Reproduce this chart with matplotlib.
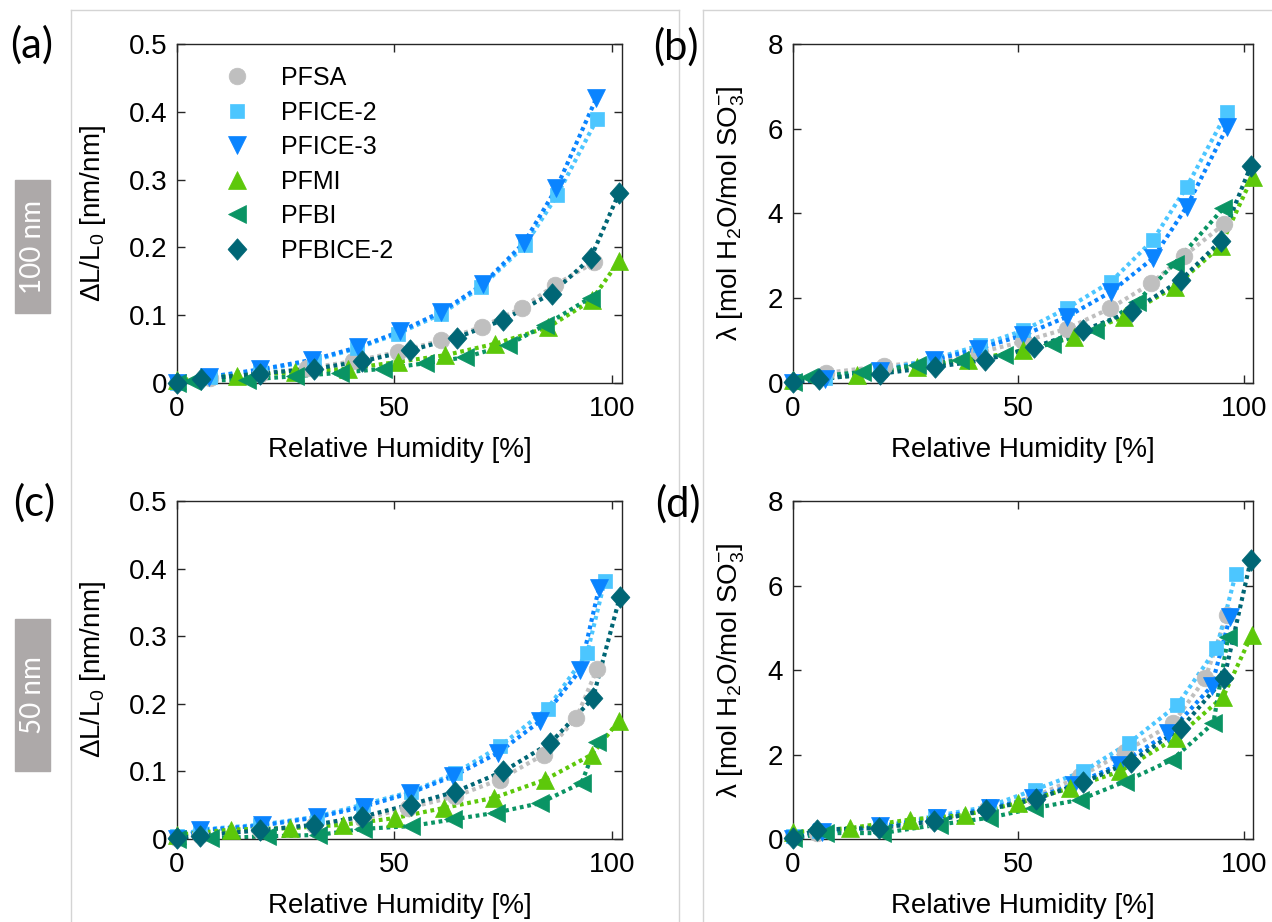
import matplotlib
matplotlib.use("Agg")
import matplotlib.pyplot as plt
from matplotlib.lines import Line2D
from matplotlib.ticker import FuncFormatter

plt.rcParams['font.family'] = ['Liberation Sans', 'DejaVu Sans']
plt.rcParams['mathtext.fontset'] = 'custom'
plt.rcParams['mathtext.rm'] = 'Liberation Sans'
plt.rcParams['mathtext.it'] = 'Liberation Sans:italic'
plt.rcParams['mathtext.default'] = 'rm'

series = ['PFSA', 'PFICE-2', 'PFICE-3', 'PFMI', 'PFBI', 'PFBICE-2']
colors = {'PFSA': '#BFBFBF', 'PFICE-2': '#4CC6FF', 'PFICE-3': '#0A84FF',
          'PFMI': '#5DC80A', 'PFBI': '#0A9464', 'PFBICE-2': '#006675'}
diamond = [(0, 1), (0.88, 0), (0, -1), (-0.88, 0), (0, 1)]
markers = {'PFSA': ('o', 12), 'PFICE-2': ('s', 10), 'PFICE-3': ('v', 13.5),
           'PFMI': ('^', 13.5), 'PFBI': ('<', 13.5), 'PFBICE-2': (diamond, 15.5)}

# (a) 100 nm film: linear swelling
a_rh = {
    'PFSA':     [0, 7.6, 19, 30, 40.5, 50.9, 60.8, 70.2, 79.4, 86.8, 95.9],
    'PFICE-2':  [0, 7.6, 19.1, 31.4, 41.3, 50.9, 60.8, 70, 80, 87.4, 96.6],
    'PFICE-3':  [0, 7.3, 19.1, 31, 41.7, 51.3, 60.8, 70.4, 79.8, 87.2, 96.4],
    'PFMI':     [0, 13.9, 27.2, 39.3, 50.7, 61.7, 73.2, 85.3, 95.3, 101.6],
    'PFBI':     [0, 3.4, 16.1, 27.2, 37.5, 47.4, 57, 66.2, 76.1, 84.5, 95.1],
    'PFBICE-2': [0, 5.5, 19.1, 31.5, 42.6, 53.6, 64.3, 75, 86.1, 95.1, 101.6],
}
a_val = {
    'PFSA':     [0, 0.008, 0.014, 0.022, 0.032, 0.046, 0.063, 0.083, 0.111, 0.144, 0.178],
    'PFICE-2':  [0, 0.009, 0.019, 0.033, 0.051, 0.073, 0.102, 0.142, 0.203, 0.277, 0.39],
    'PFICE-3':  [0, 0.009, 0.020, 0.034, 0.053, 0.076, 0.105, 0.146, 0.207, 0.287, 0.42],
    'PFMI':     [0.004, 0.011, 0.016, 0.021, 0.031, 0.041, 0.058, 0.082, 0.122, 0.18],
    'PFBI':     [0, 0.003, 0.005, 0.010, 0.015, 0.021, 0.029, 0.038, 0.056, 0.085, 0.126],
    'PFBICE-2': [0, 0.006, 0.014, 0.021, 0.032, 0.048, 0.067, 0.093, 0.132, 0.184, 0.28],
}

# (b) 100 nm film: water uptake
b_rh = {
    'PFSA':     [0, 7.4, 20.1, 31.2, 41.3, 51, 60.7, 70.3, 79.4, 86.6, 95.6],
    'PFICE-2':  [0, 7.2, 19.4, 31.2, 41.5, 51.1, 60.7, 70.5, 79.8, 87.3, 96.3],
    'PFICE-3':  [0, 7.2, 19.4, 31.2, 41.1, 51.1, 60.7, 70.5, 79.8, 87.3, 96.3],
    'PFMI':     [0, 14.2, 27.5, 38.9, 51.1, 62.2, 73.3, 84.6, 94.8, 101.9],
    'PFBI':     [0, 3.5, 15.3, 27.5, 37.1, 46.7, 57.4, 67, 76.2, 84.6, 95.4],
    'PFBICE-2': [0, 5.7, 19.4, 31.5, 42.6, 53.5, 64.3, 75.1, 86, 94.8, 101.5],
}
b_val = {
    'PFSA':     [0.03, 0.24, 0.40, 0.52, 0.72, 0.98, 1.28, 1.76, 2.35, 2.99, 3.75],
    'PFICE-2':  [0.03, 0.12, 0.30, 0.57, 0.89, 1.24, 1.76, 2.39, 3.37, 4.63, 6.4],
    'PFICE-3':  [0, 0.10, 0.28, 0.54, 0.81, 1.13, 1.56, 2.15, 2.94, 4.16, 6.05],
    'PFMI':     [0.06, 0.18, 0.38, 0.54, 0.77, 1.09, 1.56, 2.27, 3.23, 4.87],
    'PFBI':     [0.02, 0.14, 0.26, 0.42, 0.54, 0.65, 0.93, 1.24, 1.91, 2.82, 4.12],
    'PFBICE-2': [0.02, 0.10, 0.22, 0.38, 0.54, 0.85, 1.24, 1.69, 2.43, 3.35, 5.12],
}

# (c) 50 nm film: linear swelling
c_rh = {
    'PFSA':     [0, 5.4, 19.1, 31.5, 42.7, 53.2, 64, 74.2, 84.3, 91.8, 96.6],
    'PFICE-2':  [0, 5.4, 19.1, 32.1, 42.8, 53.9, 63.9, 74.2, 85.2, 94.3, 98.3],
    'PFICE-3':  [0, 5.4, 19.5, 32.1, 43, 53.6, 63.5, 73.7, 83.4, 92.7, 97],
    'PFMI':     [0, 12.5, 26, 38.1, 50.1, 61.4, 72.9, 84.7, 95.4, 101.6],
    'PFBI':     [0, 7.7, 20.7, 32.5, 42.8, 53.7, 63.5, 73.4, 83.4, 93, 96.6],
    'PFBICE-2': [0, 5.4, 19.1, 31.5, 42.6, 53.7, 64, 75, 85.8, 95.6, 101.8],
}
c_val = {
    'PFSA':     [0.002, 0.006, 0.013, 0.020, 0.030, 0.046, 0.063, 0.088, 0.125, 0.179, 0.252],
    'PFICE-2':  [0.004, 0.014, 0.021, 0.033, 0.051, 0.070, 0.097, 0.137, 0.193, 0.275, 0.381],
    'PFICE-3':  [0, 0.013, 0.020, 0.032, 0.048, 0.068, 0.093, 0.127, 0.174, 0.25, 0.371],
    'PFMI':     [0.006, 0.014, 0.016, 0.021, 0.031, 0.046, 0.061, 0.088, 0.125, 0.175],
    'PFBI':     [0, 0.001, 0.004, 0.006, 0.015, 0.019, 0.029, 0.039, 0.053, 0.083, 0.143],
    'PFBICE-2': [0.0015, 0.005, 0.013, 0.021, 0.033, 0.051, 0.070, 0.100, 0.142, 0.208, 0.358],
}

# (d) 50 nm film: water uptake
d_rh = {
    'PFSA':     [0, 5.4, 19.4, 31.5, 43, 53.5, 63.7, 73.6, 84.3, 91.4, 96.2],
    'PFICE-2':  [0, 5.7, 19.4, 31.5, 43.4, 53.7, 64.4, 74.5, 85.2, 93.9, 98.2],
    'PFICE-3':  [0, 6.4, 19.4, 31.9, 43.7, 53.3, 62.2, 72.2, 83.2, 92.8, 96.9],
    'PFMI':     [0, 12.7, 26, 38.2, 50, 61.4, 72.5, 84.9, 95.4, 101.7],
    'PFBI':     [0, 7.2, 19.7, 32.3, 43.4, 53.5, 63.7, 73.6, 84, 93.2, 96.5],
    'PFBICE-2': [0, 5.3, 19, 31.2, 42.8, 53.8, 64.4, 74.9, 86, 95.6, 101.5],
}
d_val = {
    'PFSA':     [0.05, 0.15, 0.25, 0.42, 0.70, 1.0, 1.48, 2.07, 2.74, 3.80, 5.3],
    'PFICE-2':  [0.06, 0.18, 0.31, 0.54, 0.77, 1.17, 1.6, 2.27, 3.17, 4.51, 6.28],
    'PFICE-3':  [0, 0.16, 0.30, 0.50, 0.73, 0.97, 1.28, 1.76, 2.5, 3.61, 5.26],
    'PFMI':     [0.16, 0.26, 0.46, 0.57, 0.85, 1.20, 1.60, 2.39, 3.37, 4.83],
    'PFBI':     [0.02, 0.14, 0.14, 0.34, 0.50, 0.73, 0.93, 1.36, 1.87, 2.74, 4.79],
    'PFBICE-2': [0.02, 0.22, 0.26, 0.42, 0.69, 0.94, 1.34, 1.83, 2.62, 3.80, 6.6],
}

W, H = 1272, 922
fig = plt.figure(figsize=(W / 100, H / 100), dpi=100)


def px_axes(left, top, right, bottom):
    return fig.add_axes([left / W, 1 - bottom / H, (right - left) / W, (bottom - top) / H])


# thin frames around the two sub-figure columns
for xs, ys in [([71, 71], [10, H]), ([71, 679], [10, 10]), ([679, 679], [10, H]),
               ([703, 703], [10, H]), ([703, W], [10, 10])]:
    fig.add_artist(Line2D([x / W for x in xs], [1 - y / H for y in ys],
                          color='#D4D4D4', lw=1.0, transform=fig.transFigure))

swell_label = 'ΔL/L$_0$ [nm/nm]'
uptake_label = 'λ [mol H$_2$O/mol SO$_3^{-}$]'

panels = [
    ('(a)', (177, 44, 622, 383), a_rh, a_val, 0.5, [0, 0.1, 0.2, 0.3, 0.4, 0.5], swell_label, (32, 45)),
    ('(b)', (793, 44, 1253, 383), b_rh, b_val, 8, [0, 2, 4, 6, 8], uptake_label, (676, 47)),
    ('(c)', (177, 501, 622, 839), c_rh, c_val, 0.5, [0, 0.1, 0.2, 0.3, 0.4, 0.5], swell_label, (34, 503)),
    ('(d)', (793, 501, 1253, 839), d_rh, d_val, 8, [0, 2, 4, 6, 8], uptake_label, (678, 504)),
]

axes = []
for tag, box, rh, val, ymax, yticks, ylab, tagpos in panels:
    ax = px_axes(*box)
    axes.append(ax)
    for name in series:
        c = colors[name]
        m, ms = markers[name]
        ax.plot(rh[name], val[name], linestyle=(0, (0.9, 0.9)), lw=3.0, color=c,
                dash_capstyle='butt', zorder=2)
        ax.plot(rh[name], val[name], linestyle='none', marker=m, ms=ms, color=c,
                mec=c, mew=0.5, label=name, zorder=3, clip_on=False)
    ax.set_xlim(0, 102.3)
    ax.set_ylim(0, ymax)
    ax.set_xticks([0, 50, 100])
    ax.set_yticks(yticks)
    ax.yaxis.set_major_formatter(FuncFormatter(lambda v, p: '%g' % v))
    ax.tick_params(direction='in', length=6, width=1, top=True, right=True,
                   labelsize=20, colors='#262626', labelcolor='black')
    ax.tick_params(axis='x', pad=9)
    ax.tick_params(axis='y', pad=7)
    for s in ax.spines.values():
        s.set_color('#262626')
        s.set_linewidth(1.0)
    ax.set_xlabel('Relative Humidity [%]', fontsize=20)
    ax.xaxis.set_label_coords(0.5, -0.198)
    ax.xaxis.label.set_va('center')
    ax.set_ylabel(ylab, fontsize=20)
    lx = (93 - box[0]) / (box[2] - box[0]) if ymax < 1 else (731 - box[0]) / (box[2] - box[0])
    ax.yaxis.set_label_coords(lx, 0.5)
    ax.yaxis.label.set_va('center')
    fig.text(tagpos[0] / W, 1 - tagpos[1] / H, tag, fontsize=30, family='Lato',
             ha='center', va='center')

axes[1].set_xlim(0, 102.0)
axes[3].set_xlim(0, 102.0)

axes[0].legend(loc='upper left', bbox_to_anchor=(0.079, 0.935), frameon=False,
               fontsize=18, handlelength=2.0, handletextpad=0.75, labelspacing=0.42,
               borderaxespad=0, borderpad=0)

# film-thickness tags on the left margin
for label, top, bottom in [('100 nm', 180, 313), ('50 nm', 619, 771)]:
    fig.add_artist(plt.Rectangle((15 / W, 1 - bottom / H), 35 / W, (bottom - top) / H,
                                 color='#ADA9A9', transform=fig.transFigure))
    fig.text(33 / W, 1 - (top + bottom) / 2 / H, label, rotation=90, color='white',
             fontsize=20, family='Lato', ha='center', va='center')

fig.savefig('out.png', dpi=100)
